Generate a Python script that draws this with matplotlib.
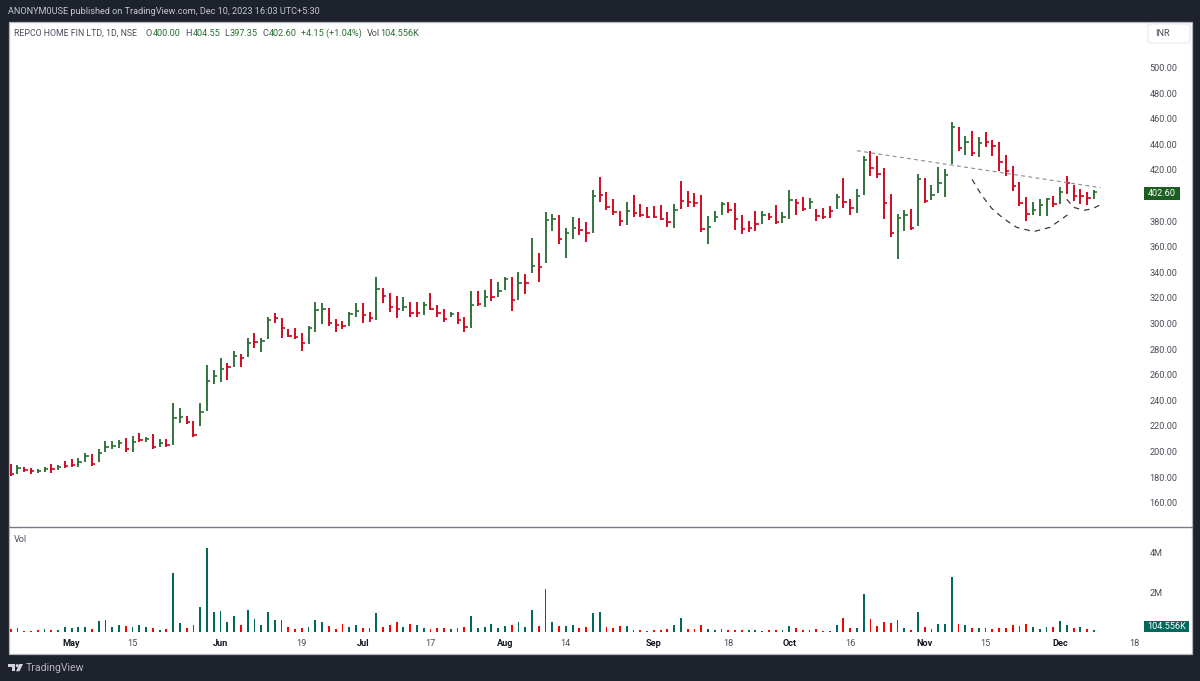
import matplotlib
matplotlib.use("Agg")
import matplotlib.pyplot as plt
import numpy as np
from matplotlib.patches import Rectangle, Polygon, Circle, FancyBboxPatch

high = [190.2, 189.4, 188.1, 187.1, 186.6, 188.1, 190.2, 189.2, 192.8, 193.9,
        194.6, 198.8, 198.0, 202.0, 208.5, 208.0, 209.0, 210.3, 212.4, 214.7,
        211.3, 213.7, 209.8, 209.8, 237.9, 233.7, 227.7, 223.8, 237.9, 267.3,
        263.7, 272.8, 268.9, 278.5, 276.2, 288.5, 292.4, 288.5, 304.9, 308.0,
        304.0, 295.7, 296.2, 292.8, 298.3, 317.0, 315.7, 311.8, 303.2, 302.2,
        308.7, 315.7, 315.7, 308.7, 336.6, 327.5, 323.6, 321.7, 320.4, 316.5,
        317.0, 317.0, 323.6, 314.4, 311.3, 309.2, 308.7, 305.3, 325.6, 325.6,
        326.2, 334.8, 332.2, 336.0, 336.0, 340.5, 338.7, 366.5, 354.8, 387.4,
        385.6, 384.5, 374.4, 383.0, 382.2, 379.0, 404.3, 414.2, 402.4, 397.2,
        387.9, 395.2, 400.4, 393.3, 390.7, 391.8, 392.5, 387.3, 393.0, 411.6,
        403.7, 401.7, 400.4, 383.9, 388.1, 394.6, 395.2, 393.9, 384.7, 380.3,
        388.1, 388.1, 386.6, 392.5, 387.3, 404.3, 397.0, 399.0, 397.8, 389.4,
        390.0, 391.8, 400.9, 413.9, 397.0, 405.1, 431.1, 435.0, 431.1, 421.2,
        401.2, 385.3, 388.7, 389.2, 416.8, 413.9, 408.2, 422.0, 420.4, 457.7,
        453.3, 446.5, 450.7, 445.5, 449.9, 443.4, 441.5, 431.6, 423.0, 410.8,
        398.6, 394.7, 397.0, 398.3, 399.6, 406.9, 415.2, 408.0, 405.1, 402.7, 404.55]
low = [181.1, 182.4, 184.2, 182.4, 182.9, 183.7, 182.9, 185.3, 187.4, 188.1,
       187.6, 191.5, 188.9, 192.0, 199.3, 202.0, 202.5, 199.9, 199.9, 207.2,
       207.4, 202.0, 203.3, 203.8, 205.0, 222.0, 221.2, 211.3, 219.9, 231.9,
       252.7, 254.0, 255.8, 266.3, 265.7, 273.6, 280.6, 277.5, 287.9, 300.2,
       288.4, 289.2, 287.9, 278.8, 283.7, 293.1, 299.3, 298.0, 293.6, 295.4,
       298.3, 304.8, 300.6, 301.4, 302.5, 315.7, 309.2, 304.3, 309.8, 305.3,
       305.3, 306.9, 310.5, 305.3, 301.4, 305.3, 299.6, 293.6, 296.7, 313.7,
       313.1, 317.8, 321.0, 326.2, 310.0, 318.4, 322.8, 339.7, 332.2, 347.0,
       372.5, 362.1, 351.4, 365.8, 369.1, 363.4, 370.9, 394.6, 388.6, 384.7,
       376.1, 376.9, 383.4, 383.4, 382.1, 382.1, 380.8, 375.6, 374.3, 389.2,
       391.2, 391.2, 371.7, 361.8, 379.0, 384.7, 386.0, 373.0, 369.9, 371.2,
       372.5, 377.7, 380.8, 377.4, 378.2, 381.6, 384.7, 387.9, 389.4, 380.3,
       381.9, 382.7, 389.2, 390.0, 384.8, 386.6, 400.7, 415.5, 413.4, 381.4,
       367.8, 350.7, 372.5, 373.0, 376.4, 394.4, 396.5, 401.7, 399.1, 424.6,
       435.0, 431.6, 431.1, 430.3, 437.6, 430.9, 419.4, 415.2, 403.8, 392.0,
       380.3, 384.8, 384.3, 384.3, 391.3, 393.4, 401.2, 396.0, 393.4, 392.6, 397.35]
close = [182.4, 186.8, 185.5, 184.5, 184.8, 186.1, 186.1, 187.6, 188.7, 189.2,
         191.5, 196.5, 190.0, 198.6, 203.3, 204.3, 206.6, 201.7, 207.4, 209.0,
         209.5, 203.8, 207.0, 204.8, 226.4, 226.7, 223.3, 212.9, 230.8, 254.8,
         259.2, 264.4, 265.7, 274.9, 273.3, 285.1, 285.8, 286.4, 302.8, 304.0,
         296.2, 290.5, 289.7, 284.5, 296.2, 310.5, 311.0, 300.1, 298.8, 298.0,
         307.4, 310.0, 306.6, 304.0, 326.9, 321.5, 313.1, 311.6, 313.1, 307.9,
         307.9, 314.4, 311.6, 307.9, 303.8, 307.4, 302.7, 297.5, 314.4, 315.2,
         320.4, 320.9, 325.4, 334.8, 318.4, 331.4, 331.4, 344.9, 344.4, 380.9,
         381.4, 366.0, 370.4, 374.4, 373.0, 370.4, 399.6, 400.4, 391.2, 386.8,
         380.3, 388.1, 386.0, 384.7, 383.4, 383.4, 381.9, 379.5, 388.6, 395.9,
         395.2, 394.4, 373.5, 375.6, 383.4, 393.3, 388.6, 381.6, 373.5, 374.3,
         377.7, 384.7, 383.4, 379.5, 382.9, 396.4, 393.9, 389.2, 394.6, 384.0,
         383.5, 387.9, 398.6, 394.7, 390.0, 399.6, 427.7, 421.2, 416.5, 394.4,
         370.5, 382.2, 384.8, 374.4, 412.6, 396.0, 400.4, 409.5, 416.0, 453.3,
         436.9, 442.0, 433.5, 440.8, 442.0, 438.7, 426.4, 419.4, 407.4, 393.9,
         385.5, 388.7, 392.6, 397.0, 393.4, 403.0, 409.5, 399.6, 399.6, 398.3, 402.6]
bar_up = [0, 1, 0, 0, 1, 1, 0, 1, 0, 0,
          1, 1, 0, 1, 1, 1, 1, 0, 1, 0,
          1, 0, 1, 0, 1, 1, 0, 0, 1, 1,
          1, 1, 0, 1, 0, 1, 0, 1, 1, 0,
          0, 0, 0, 0, 1, 1, 1, 0, 0, 0,
          1, 1, 0, 0, 1, 0, 0, 0, 1, 0,
          0, 1, 0, 0, 0, 1, 0, 0, 1, 0,
          1, 0, 1, 1, 0, 1, 0, 1, 0, 1,
          1, 0, 1, 1, 0, 0, 1, 0, 0, 0,
          0, 1, 0, 0, 0, 0, 0, 0, 1, 0,
          0, 0, 0, 1, 1, 1, 0, 0, 0, 0,
          0, 1, 0, 0, 1, 1, 0, 0, 1, 0,
          0, 0, 1, 0, 0, 1, 1, 0, 0, 0,
          0, 1, 1, 0, 1, 0, 1, 1, 1, 1,
          0, 1, 0, 1, 0, 0, 0, 0, 0, 0,
          0, 1, 1, 1, 0, 1, 0, 0, 0, 0, 1]

# volume in millions
volume = [.18, .2, .08, .08, .1, .15, .13, .12, .25, .2,
          .25, .28, .18, .55, .6, .25, .35, .32, .28, .35,
          .25, .22, .13, .17, 2.97, .47, .2, .37, 1.25, 4.2,
          1.02, 1.07, .53, .83, .37, 1.12, .65, .37, 1.0, .6,
          .62, .25, .18, .22, .25, .6, .5, .32, .17, .4,
          .28, .35, .22, .2, .97, .25, .35, .5, .25, .4,
          .35, .22, .18, .2, .22, .18, .2, .27, .82, .22,
          .25, .43, .22, .3, .35, .5, .28, 1.12, .3, 2.17,
          .53, .3, .3, .35, .23, .27, .97, 1.0, .28, .22,
          .3, .3, .13, .12, .08, .12, .12, .17, .37, .72,
          .18, .17, .35, .17, .13, .17, .1, .12, .12, .12,
          .13, .08, .1, .12, .1, .3, .22, .12, .1, .18,
          .08, .08, .35, .72, .22, .22, 1.9, .65, .32, .53,
          .45, .6, .2, .13, 1.0, .28, .17, .4, .43, 2.78,
          .42, .35, .23, .22, .22, .15, .2, .22, .37, .3,
          .43, .28, .18, .28, .27, .55, .37, .2, .27, .17, .105]
vol_up = [0, 1, 0, 0, 0, 1, 0, 1, 1, 1,
          1, 1, 0, 1, 1, 1, 1, 0, 1, 1,
          1, 0, 1, 0, 1, 1, 0, 0, 1, 1,
          1, 1, 1, 1, 0, 1, 1, 1, 1, 1,
          0, 0, 0, 0, 1, 1, 1, 0, 0, 0,
          1, 1, 0, 0, 1, 0, 0, 0, 1, 0,
          1, 1, 0, 0, 0, 1, 0, 0, 1, 1,
          1, 1, 1, 1, 0, 1, 1, 1, 0, 1,
          1, 0, 1, 1, 0, 0, 1, 1, 0, 0,
          0, 1, 0, 0, 1, 0, 0, 0, 1, 1,
          0, 0, 0, 1, 1, 1, 0, 0, 0, 1,
          1, 1, 0, 0, 1, 1, 0, 0, 1, 0,
          0, 1, 1, 0, 0, 1, 1, 0, 0, 0,
          0, 1, 1, 0, 1, 0, 1, 1, 1, 1,
          0, 1, 0, 1, 1, 0, 0, 0, 0, 0,
          0, 1, 1, 1, 0, 1, 1, 0, 1, 0, 1]

# drawings on the chart (bar number, price)
trend_x = [125, 161]
trend_y = [435, 406.1]
cup_x = [142, 143.4, 144.9, 146.6, 148.6, 151.1, 153.5, 156.1]
cup_y = [412.6, 400.4, 390, 382.2, 375.1, 371.8, 375.1, 384.8]
handle_x = [156, 157, 158.5, 159.7, 160.9]
handle_y = [397, 390.8, 388.4, 389.5, 392.6]

price_ticks = [160, 180, 200, 220, 240, 260, 280, 300, 320, 340, 360, 380, 420, 440, 460, 480, 500]
vol_ticks = [2, 4]
vol_tick_labels = ["2M", "4M"]
date_pos = [9, 18, 31, 43, 52, 62, 73, 82, 95, 106, 115, 124, 135, 144, 155, 166]
date_labels = ["May", "15", "Jun", "19", "Jul", "17", "Aug", "14", "Sep", "18", "Oct", "16", "Nov", "15", "Dec", "18"]
months = ["May", "Jun", "Jul", "Aug", "Sep", "Oct", "Nov", "Dec"]

W, H = 1200, 681
DARK = "#1E222D"
BAR_GREEN = "#2B6E35"
BAR_RED = "#D0021B"
VOL_GREEN = "#00695C"
VOL_RED = "#FF0000"
TXT = "#4A4E59"
FS = 6.6
plt.rcParams["font.family"] = ["Roboto", "DejaVu Sans"]


def add_axes_px(fig, x0, y0, x1, y1):
    return fig.add_axes([x0 / W, 1 - y1 / H, (x1 - x0) / W, (y1 - y0) / H])


def bar_to_x(px):
    return (px - 10.7) / 6.77


def px_to_price(y):
    return 500 - (y - 67.5) / 1.28


def px_to_vol(y):
    return (632.3 - y) / 20


fig = plt.figure(figsize=(W / 100, H / 100), dpi=100, facecolor=DARK)

# background layer in pixel coordinates: frame, header, logo
bg = add_axes_px(fig, 0, 0, W, H)
bg.set_xlim(0, W)
bg.set_ylim(H, 0)
bg.axis("off")
bg.add_patch(Rectangle((8.5, 21.5), 1183, 632, fc="white", ec="#B2B5BE", lw=0.9))
bg.plot([8.5, 1191.5], [527, 527], color="#787B86", lw=1.0)

bg.text(8, 12, "ANONYM0USE published on TradingView.com, Dec 10, 2023 16:03 UTC+5:30",
        color="#C4C7CF", fontsize=6.6, va="center")
legend_parts = [(14, "REPCO HOME FIN LTD, 1D, NSE", TXT), (145.7, "O", TXT), (153, "400.00", BAR_GREEN),
                (185, "H", TXT), (192.5, "404.55", BAR_GREEN), (224.3, "L", TXT), (230, "397.35", BAR_GREEN),
                (262.3, "C", TXT), (269, "402.60", BAR_GREEN), (301, "+4.15 (+1.04%)", BAR_GREEN),
                (367, "Vol", TXT), (380, "104.556K", BAR_GREEN)]
for x, s, c in legend_parts:
    bg.text(x, 33, s, color=c, fontsize=6.3 if x == 14 else FS, va="center")
bg.text(14, 540, "Vol", color=TXT, fontsize=FS, va="center")

bg.add_patch(FancyBboxPatch((1149, 25), 40, 17, boxstyle="round,pad=1,rounding_size=3",
                            fc="white", ec="#E6E8EE", lw=0.8))
bg.text(1155, 34, "INR", color=TXT, fontsize=FS, va="center")

bg.add_patch(Polygon([(8.3, 664), (15, 664), (15, 671.3), (11.5, 671.3), (11.5, 667), (8.3, 667)], fc="#D1D4DC"))
bg.add_patch(Circle((17.2, 665.6), 1.5, fc="#D1D4DC"))
bg.add_patch(Polygon([(19.3, 664), (23, 664), (19.5, 671.3), (16, 671.3)], fc="#D1D4DC"))
bg.text(26, 668, "TradingView", color="#B2B5BE", fontsize=7.6, va="center")

# price pane
x = np.arange(len(close))
ax = add_axes_px(fig, 8.5, 21.5, 1140, 527)
ax.patch.set_alpha(0)
colors = [BAR_GREEN if u else BAR_RED for u in bar_up]
ax.vlines(x, low, high, colors=colors, lw=1.35)
ax.hlines(close, x, x + 0.5, colors=colors, lw=1.2)
ax.plot(trend_x, trend_y, color="#8A8D96", lw=0.8, ls=(0, (3.5, 3)))
ax.plot(cup_x, cup_y, color="#3A3A3A", lw=0.9, ls=(0, (4.5, 4)))
ax.plot(handle_x, handle_y, color="#3A3A3A", lw=0.9, ls=(0, (4.5, 4)))
ax.set_xlim(bar_to_x(8.5), bar_to_x(1140))
ax.set_ylim(px_to_price(527), px_to_price(21.5))
ax.yaxis.tick_right()
ax.set_yticks(price_ticks)
ax.set_yticklabels([f"{p:.2f}" for p in price_ticks])
ax.tick_params(axis="y", length=0, pad=7, labelsize=FS, labelcolor=TXT)
ax.set_xticks([])
for s in ax.spines.values():
    s.set_visible(False)

# volume pane
vax = add_axes_px(fig, 8.5, 527, 1140, 633)
vax.patch.set_alpha(0)
vax.bar(x, volume, width=0.27, color=[VOL_GREEN if u else VOL_RED for u in vol_up])
vax.set_xlim(bar_to_x(8.5), bar_to_x(1140))
vax.set_ylim(px_to_vol(633), px_to_vol(527))
vax.yaxis.tick_right()
vax.set_yticks(vol_ticks)
vax.set_yticklabels(vol_tick_labels)
vax.tick_params(axis="y", length=0, pad=7, labelsize=FS, labelcolor=TXT)
vax.set_xticks(date_pos)
vax.set_xticklabels(date_labels)
vax.tick_params(axis="x", length=0, pad=4.5, labelsize=FS, labelcolor=TXT)
for lab in vax.get_xticklabels():
    if lab.get_text() in months:
        lab.set_fontweight("bold")
        lab.set_color("#131722")
for s in vax.spines.values():
    s.set_visible(False)

# last value boxes
bg.add_patch(Rectangle((1144, 187), 35.7, 12.5, fc="#1B5E20", ec="none"))
bg.text(1162, 193.2, "402.60", color="white", fontsize=FS, va="center", ha="center")
bg.add_patch(Rectangle((1144.3, 620.7), 44.7, 11.5, fc="#00695C", ec="none"))
bg.text(1167, 626.5, "104.556K", color="white", fontsize=FS, va="center", ha="center")

fig.savefig("out.png", dpi=100, facecolor=fig.get_facecolor())
plt.close(fig)
